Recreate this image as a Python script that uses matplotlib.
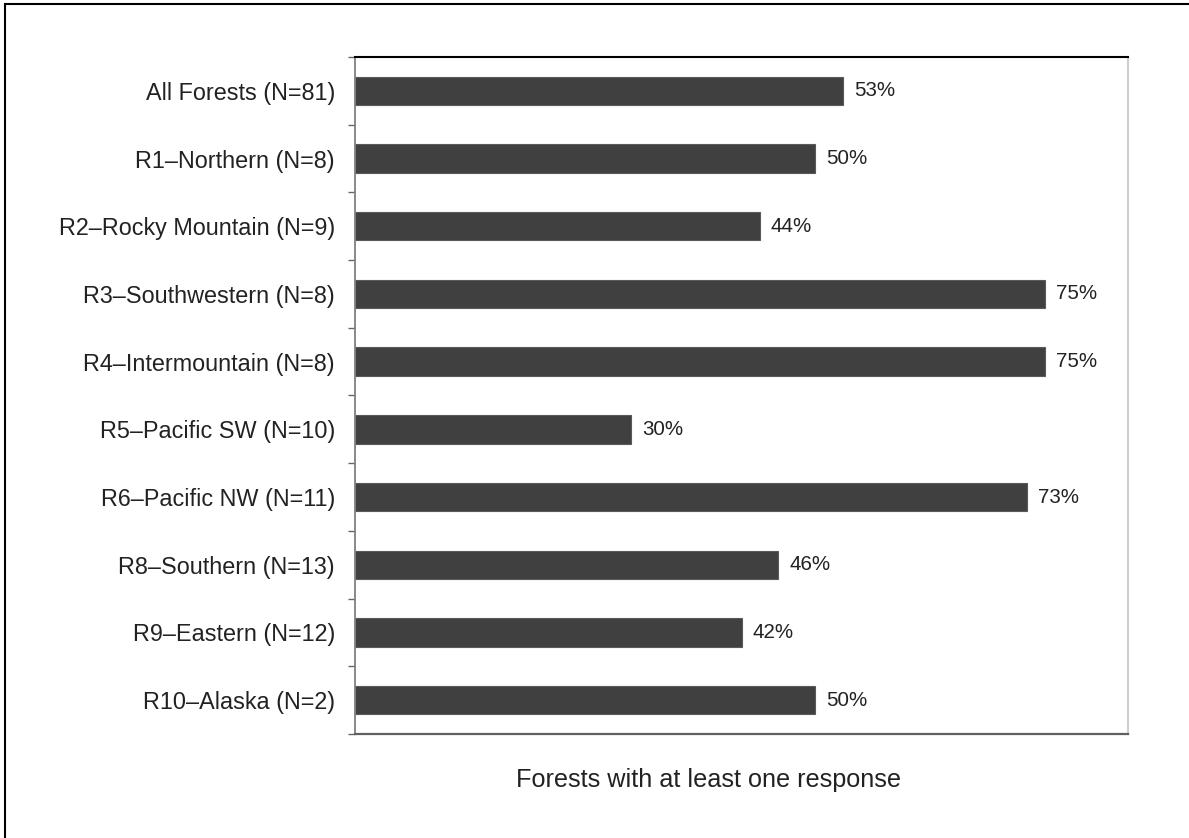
import matplotlib
matplotlib.use("Agg")
import matplotlib.pyplot as plt
from matplotlib.patches import Rectangle
import numpy as np

plt.rcParams['font.family'] = ['Liberation Sans', 'DejaVu Sans']

categories = [
    "All Forests (N=81)",
    "R1\u2013Northern (N=8)",
    "R2\u2013Rocky Mountain (N=9)",
    "R3\u2013Southwestern (N=8)",
    "R4\u2013Intermountain (N=8)",
    "R5\u2013Pacific SW (N=10)",
    "R6\u2013Pacific NW (N=11)",
    "R8\u2013Southern (N=13)",
    "R9\u2013Eastern (N=12)",
    "R10\u2013Alaska (N=2)",
]
percent_values = [53, 50, 44, 75, 75, 30, 73, 46, 42, 50]
x_label = "Forests with at least one response"

W, H = 1189, 838
fig = plt.figure(figsize=(W / 100, H / 100), dpi=100)
fig.patch.set_facecolor("white")

# outer frame around the whole graphic
fig.add_artist(Rectangle((5 / W, -0.05), 1.2, 1 - 4 / H + 0.05,
                         transform=fig.transFigure, fill=False,
                         edgecolor="black", linewidth=1.5))

ax = fig.add_axes([355 / W, 1 - 734 / H, (1128 - 355) / W, (734 - 57) / H])

y = np.arange(len(categories))
ax.barh(y, percent_values, height=0.42, color="#404040",
        edgecolor="#5a5a5a", linewidth=0.8)

for yi, v in zip(y, percent_values):
    ax.text(v + 1.2, yi, f"{v}%", va="center", ha="left",
            fontsize=14.8, color="#222222")

ax.set_xlim(0, 84)
ax.set_ylim(len(categories) - 0.5, -0.5)

ax.set_yticks(y)
ax.set_yticklabels(categories, fontsize=16.8, color="#222222")
ax.set_yticks(np.arange(-0.5, len(categories) + 0.5, 1), minor=True)
ax.tick_params(axis="y", which="major", length=0, pad=14.4)
ax.tick_params(axis="y", which="minor", length=5, width=1, color="#666666",
               direction="out")
ax.set_xticks([])

ax.spines["top"].set_color("black")
ax.spines["top"].set_linewidth(1.5)
ax.spines["left"].set_color("#808080")
ax.spines["left"].set_linewidth(1.3)
ax.spines["right"].set_color("#cfcfcf")
ax.spines["right"].set_linewidth(1.5)
ax.spines["bottom"].set_color("#606060")
ax.spines["bottom"].set_linewidth(1.6)

fig.text(708 / W, 1 - 780 / H, x_label, ha="center", va="center",
         fontsize=18.2, color="#222222")

fig.savefig("out.png", dpi=100, facecolor="white")
